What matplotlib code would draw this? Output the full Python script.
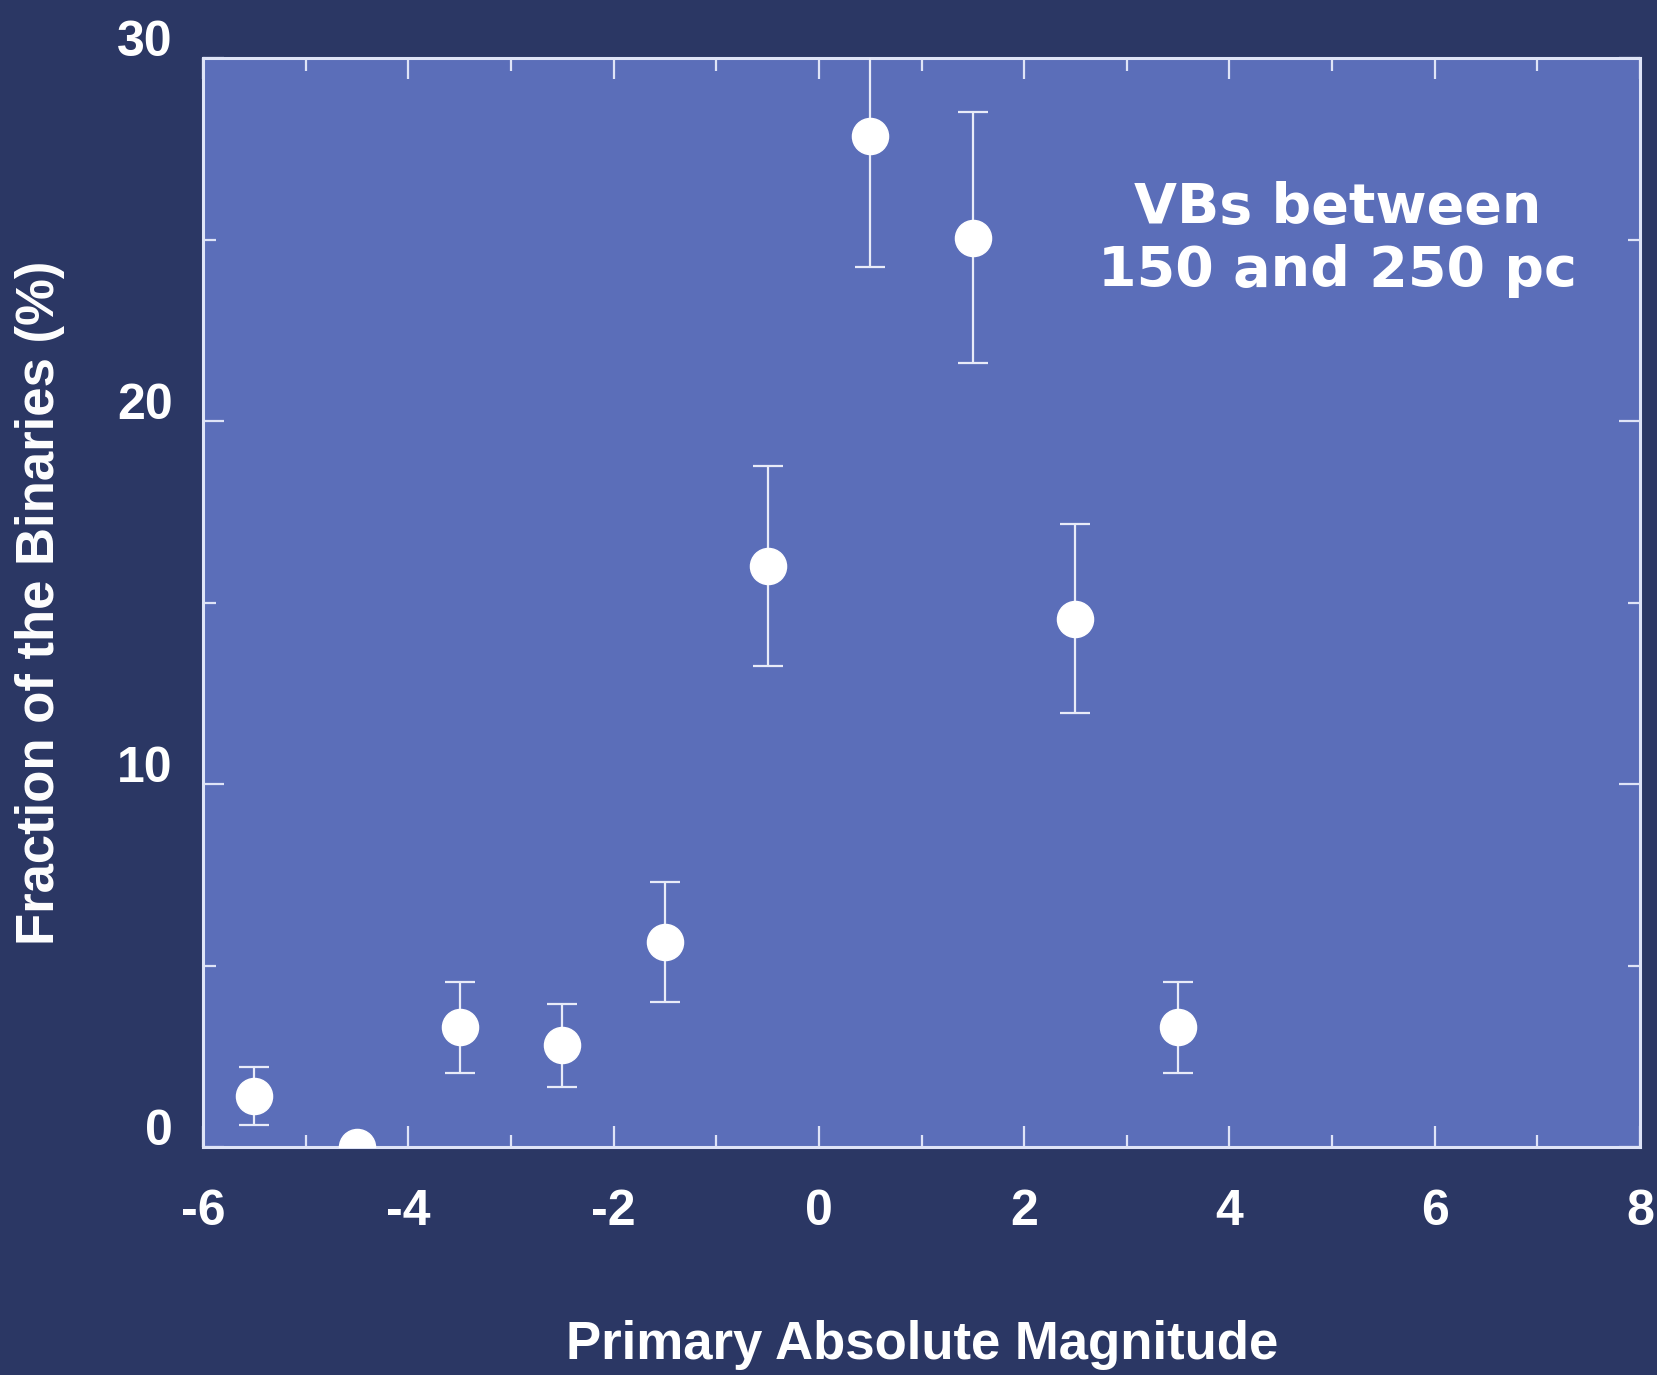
import matplotlib.pyplot as plt
from matplotlib.ticker import MultipleLocator
import matplotlib.transforms as mtransforms

plt.rcParams["axes.unicode_minus"] = False

magnitude = [-5.5, -4.5, -3.5, -2.5, -1.5, -0.5, 0.5, 1.5, 2.5, 3.5]
fraction = [1.4, 0.0, 3.3, 2.8, 5.65, 16.0, 27.85, 25.05, 14.55, 3.3]
fraction_err = [0.8, 0.0, 1.25, 1.15, 1.65, 2.75, 3.6, 3.45, 2.6, 1.25]

x_ticks = [-6, -4, -2, 0, 2, 4, 6, 8]
y_ticks = [0, 10, 20, 30]

outer_bg = "#2b3764"
panel_bg = "#5b6eb9"
frame_col = "#dfe4f7"
tick_font = ["Liberation Sans", "DejaVu Sans"]

fig = plt.figure(figsize=(16.58, 13.75), dpi=100, facecolor=outer_bg)
ax = fig.add_axes([0.1224, 0.1658, 0.8668, 0.792])
ax.set_facecolor(panel_bg)

ax.errorbar(
    magnitude, fraction, yerr=fraction_err,
    fmt="o", ms=26, mfc="white", mec="white",
    ecolor="#e8ebf8", elinewidth=1.6, capsize=11, capthick=1.6,
    zorder=3,
)

ax.set_xlim(-6, 8)
ax.set_ylim(0, 30)
ax.xaxis.set_minor_locator(MultipleLocator(1))
ax.yaxis.set_minor_locator(MultipleLocator(5))
ax.set_xticks(x_ticks)
ax.set_yticks(y_ticks)

ax.tick_params(which="both", direction="in", top=True, right=True,
               color=frame_col, width=1.6)
ax.tick_params(which="major", length=15)
ax.tick_params(which="minor", length=9)
ax.tick_params(axis="x", which="major", pad=30)
ax.tick_params(axis="y", which="major", pad=22)

for lab in ax.get_xticklabels() + ax.get_yticklabels():
    lab.set_family(tick_font)
    lab.set_fontweight("bold")
    lab.set_fontsize(36)
    lab.set_color("white")

# y labels sit a bit above their ticks in the original
offset = mtransforms.ScaledTranslation(0, 20 / 100, fig.dpi_scale_trans)
for lab in ax.get_yticklabels():
    lab.set_transform(lab.get_transform() + offset)

for sp in ax.spines.values():
    sp.set_color(frame_col)
    sp.set_linewidth(2.2)

fig.text(922 / 1658, 1 - 1345 / 1375, "Primary Absolute Magnitude",
         ha="center", va="center", color="white", fontsize=38,
         fontweight="bold", family=tick_font)
fig.text(40 / 1658, 1 - 603 / 1375, "Fraction of the Binaries (%)",
         ha="center", va="center", rotation=90, color="white", fontsize=38,
         fontweight="bold", family=tick_font)

ax.text(5.05, 25.0, "VBs between\n150 and 250 pc", ha="center", va="center",
        color="white", fontsize=40, fontweight="bold", family="DejaVu Sans",
        linespacing=1.2)

fig.savefig("out.png", dpi=100, facecolor=outer_bg)
